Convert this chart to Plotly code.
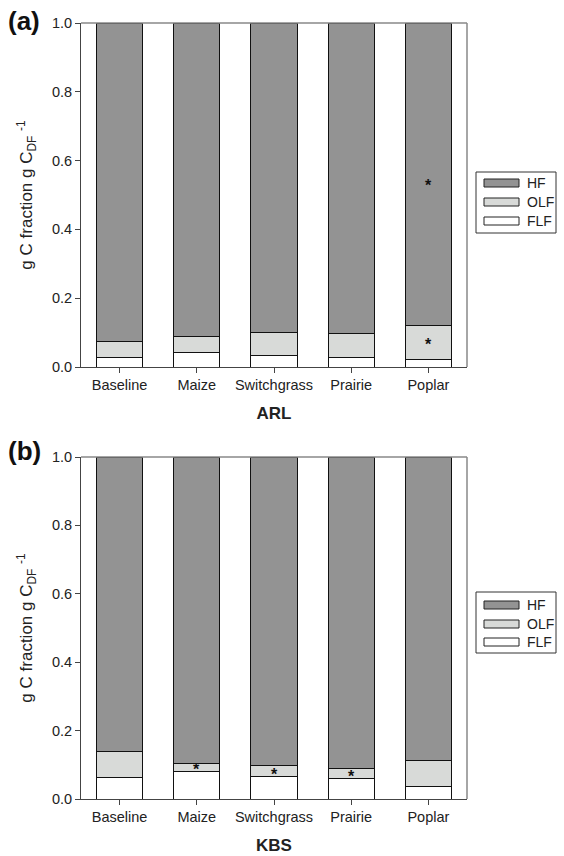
import plotly.graph_objects as go
from plotly.subplots import make_subplots

categories = ["Baseline", "Maize", "Switchgrass", "Prairie", "Poplar"]
series_names = ["HF", "OLF", "FLF"]

# ARL (panel a)
arl_flf = [0.028, 0.043, 0.032, 0.028, 0.022]
arl_olf = [0.046, 0.047, 0.067, 0.068, 0.100]
arl_hf = [1 - a - b for a, b in zip(arl_flf, arl_olf)]

# KBS (panel b)
kbs_flf = [0.063, 0.081, 0.067, 0.060, 0.036]
kbs_olf = [0.075, 0.023, 0.030, 0.028, 0.076]
kbs_hf = [1 - a - b for a, b in zip(kbs_flf, kbs_olf)]

# significance asterisks: (category, y value)
arl_stars = [("Poplar", 0.535), ("Poplar", 0.073)]
kbs_stars = [("Maize", 0.094), ("Switchgrass", 0.080), ("Prairie", 0.075)]

colors = {"HF": "#939393", "OLF": "#d8dad8", "FLF": "#ffffff"}
FONT = "Liberation Sans, Arial, sans-serif"

W, H = 564, 856
ML, MR, MT, MB = 81, 97, 23, 57
PW = W - ML - MR
PH = H - MT - MB


def px(x):
    return (x - ML) / PW


def py(y):
    return (H - MB - y) / PH


fig = make_subplots(rows=2, cols=1, vertical_spacing=0.1)

for row, (flf, olf, hf) in enumerate([(arl_flf, arl_olf, arl_hf), (kbs_flf, kbs_olf, kbs_hf)], start=1):
    for name, vals in [("FLF", flf), ("OLF", olf), ("HF", hf)]:
        fig.add_trace(go.Bar(x=categories, y=vals, name=name,
                             marker=dict(color=colors[name], line=dict(color="#111111", width=1)),
                             showlegend=False, hoverinfo="skip"), row=row, col=1)

fig.update_layout(barmode="stack", bargap=0.4,
                  width=W, height=H,
                  margin=dict(l=ML, r=MR, t=MT, b=MB, autoexpand=False),
                  paper_bgcolor="white", plot_bgcolor="white",
                  font=dict(family=FONT, size=14, color="#222222"))

top_dom = [py(367), 1.0]
bot_dom = [0.0, py(457)]
fig.update_layout(yaxis=dict(domain=top_dom), yaxis2=dict(domain=bot_dom))

for i, title in [(1, "ARL"), (2, "KBS")]:
    fig.update_xaxes(row=i, col=1, range=[-0.5, 4.5], showline=True, linecolor="#444444", linewidth=1,
                     mirror=False, ticks="outside", ticklen=5, tickcolor="#444444", automargin=False,
                     tickfont=dict(size=14.5, family=FONT), showgrid=False,
                     title=dict(text="<b>" + title + "</b>", font=dict(size=17, family=FONT), standoff=14))
    fig.update_yaxes(row=i, col=1, range=[0, 1.0], dtick=0.2, tickformat=".1f", automargin=False,
                     showline=True, linecolor="#444444", linewidth=1,
                     ticks="outside", ticklen=5, tickcolor="#444444", showgrid=False, zeroline=False,
                     tickfont=dict(size=14.5, family=FONT),
                     title=dict(text="g C fraction g C<sub>DF</sub> <sup>-1</sup>",
                                font=dict(size=17, family=FONT), standoff=14))

shapes = []
annotations = []
# grey frame top & right
for y0, y1 in [(23, 367), (457, 799)]:
    shapes.append(dict(type="line", xref="paper", yref="paper", x0=0, x1=1, y0=py(y0), y1=py(y0),
                       line=dict(color="#888888", width=1.5)))
    shapes.append(dict(type="line", xref="paper", yref="paper", x0=1, x1=1, y0=py(y0), y1=py(y1),
                       line=dict(color="#888888", width=1.5)))

# panel labels
annotations.append(dict(text="<b>(a)</b>", xref="paper", yref="paper", x=px(6), y=py(21),
                        xanchor="left", yanchor="middle", showarrow=False, font=dict(size=26, family=FONT, color="#111")))
annotations.append(dict(text="<b>(b)</b>", xref="paper", yref="paper", x=px(6), y=py(451),
                        xanchor="left", yanchor="middle", showarrow=False, font=dict(size=26, family=FONT, color="#111")))

# manual legends
for box_top, entries_y in [(172, [183, 202, 221]), (592, [605, 624, 642])]:
    shapes.append(dict(type="rect", xref="paper", yref="paper", x0=px(476), x1=px(556),
                       y0=py(box_top), y1=py(box_top + 61), line=dict(color="#333333", width=1),
                       fillcolor="white"))
    for name, yy in zip(series_names, entries_y):
        shapes.append(dict(type="rect", xref="paper", yref="paper", x0=px(484), x1=px(519),
                           y0=py(yy - 4), y1=py(yy + 4), line=dict(color="#222222", width=1),
                           fillcolor=colors[name]))
        annotations.append(dict(text=name, xref="paper", yref="paper", x=px(525), y=py(yy),
                                xanchor="left", yanchor="middle", showarrow=False,
                                font=dict(size=14, family=FONT, color="#222")))

# asterisks
for axis, stars in [("", arl_stars), ("2", kbs_stars)]:
    for cat, yv in stars:
        annotations.append(dict(text="<b>*</b>", xref="x" + axis, yref="y" + axis, x=cat, y=yv,
                                yshift=-3, showarrow=False, font=dict(size=16, family=FONT, color="#111")))

fig.update_layout(shapes=shapes, annotations=annotations)
fig.write_html("out.html", config={"displayModeBar": False},
               post_script="document.body.style.margin='0';")
